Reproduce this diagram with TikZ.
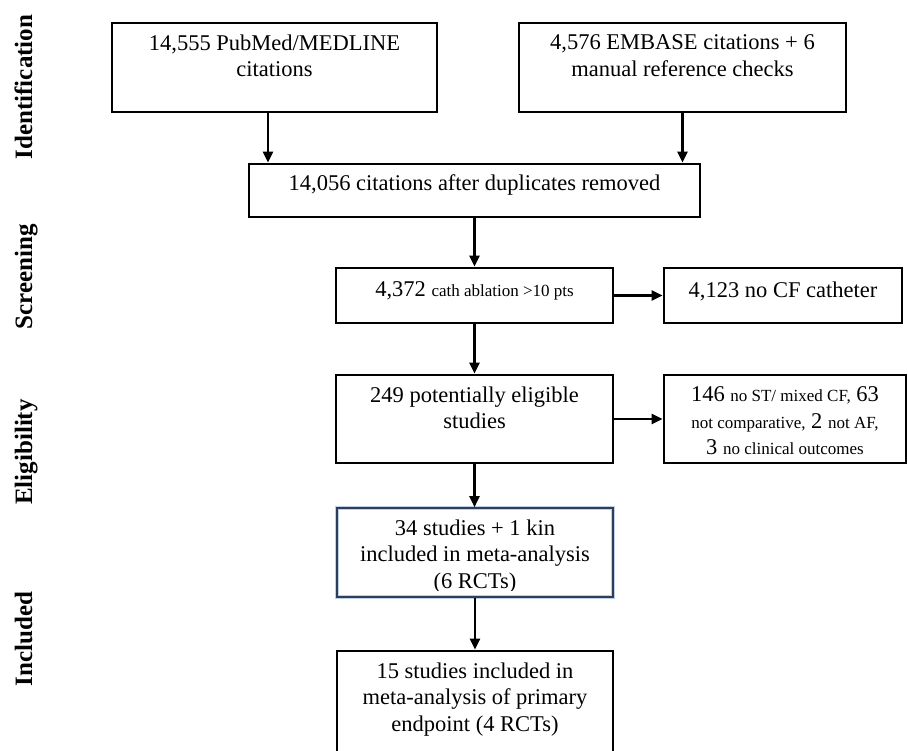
\documentclass[tikz,border=0pt]{standalone}
\usepackage{fontspec}
\setmainfont{Liberation Serif}
\usetikzlibrary{arrows.meta}
\definecolor{boxblue}{HTML}{2F3E56}
\definecolor{haloblue}{HTML}{BCD0E6}
\begin{document}
\begin{tikzpicture}[x=1pt,y=-1pt,
  box/.style={draw=black, line width=2.8pt, rectangle, inner sep=0pt},
  incbox/.style={draw=boxblue, line width=1.6pt, rectangle, inner sep=0pt,
    preaction={draw=haloblue, line width=3.6pt}},
  txt/.style={align=center, inner sep=0pt, anchor=north, font=\fontsize{22.5}{26.5}\selectfont},
  phase/.style={rotate=90, anchor=base, inner sep=0pt, font=\fontsize{25}{30}\selectfont\bfseries},
  arr/.style={line width=2.2pt, -{Triangle[length=11pt,width=10pt]}}]
\newcommand{\sm}[1]{{\fontsize{17}{20}\selectfont #1}}
\useasboundingbox (0,0) rectangle (908,750);
\clip (0,0) rectangle (908,750);

% phase labels
\node[phase] (pid) at (32,87) {Identification};
\node[phase] (psc) at (32,277) {Screening};
\node[phase] (pel) at (32,452) {Eligibility};
\node[phase] (pin) at (32,639) {Included};

% boxes
\node[box, minimum width=325pt, minimum height=89pt] (b1) at (274.5,67.5) {};
\node[box, minimum width=327pt, minimum height=89pt] (b2) at (682.5,67.5) {};
\node[box, minimum width=451pt, minimum height=53pt] (b3) at (474.5,190.5) {};
\node[box, minimum width=277pt, minimum height=55pt] (b4) at (474.5,295.5) {};
\node[box, minimum width=238pt, minimum height=55pt] (b5) at (783,295.5) {};
\node[box, minimum width=277pt, minimum height=88pt] (b6) at (474.5,419) {};
\node[box, minimum width=242pt, minimum height=88pt] (b7) at (785,419) {};
\node[incbox, minimum width=276pt, minimum height=89pt] (b8) at (475,552.5) {};
\node[box, minimum width=276pt, minimum height=119pt] (b9) at (475,710.5) {};

% texts
\node[txt] (t1) at (274.5,34.6) {14,555 PubMed/MEDLINE\\citations};
\node[txt] (t2) at (682.5,34.6) {4,576 EMBASE citations + 6\\manual reference checks};
\node[txt] (t3) at (474.5,174.6) {14,056 citations after duplicates removed};
\node[txt] (t4) at (474.5,281.6) {4,372 \sm{cath ablation >10 pts}};
\node[txt] (t5) at (783,281.6) {4,123 no CF catheter};
\node[txt] (t6) at (474.5,386.6) {249 potentially eligible\\studies};
\node[txt] (t7) at (785,386.6) {146 \sm{no ST/ mixed CF,} 63\\\sm{not comparative,} 2 \sm{not AF,}\\3 \sm{no clinical outcomes}};
\begin{scope}
\clip (337,508) rectangle (613,590);
\node[txt] (t8) at (475,519.6) {34 studies + 1 kin\\included in meta-analysis\\(6 RCTs)};
\end{scope}
\node[txt] (t9) at (475,662.6) {15 studies included in\\meta-analysis of primary\\endpoint (4 RCTs)};

% connectors
\draw[arr] ([xshift=-6.5pt]b1.south) -- ([xshift=-6.5pt]b1.south |- b3.north);
\draw[arr] (b2.south) -- (b2.south |- b3.north);
\draw[arr] (b3.south) -- (b3.south |- b4.north);
\draw[arr] (b4.east) -- (b5.west);
\draw[arr] (b4.south) -- (b4.south |- b6.north);
\draw[arr] (b6.east) -- (b7.west);
\draw[arr] (b6.south) -- (b6.south |- b8.north);
\draw[arr] (b8.south) -- (b8.south |- b9.north);
\end{tikzpicture}
\end{document}
